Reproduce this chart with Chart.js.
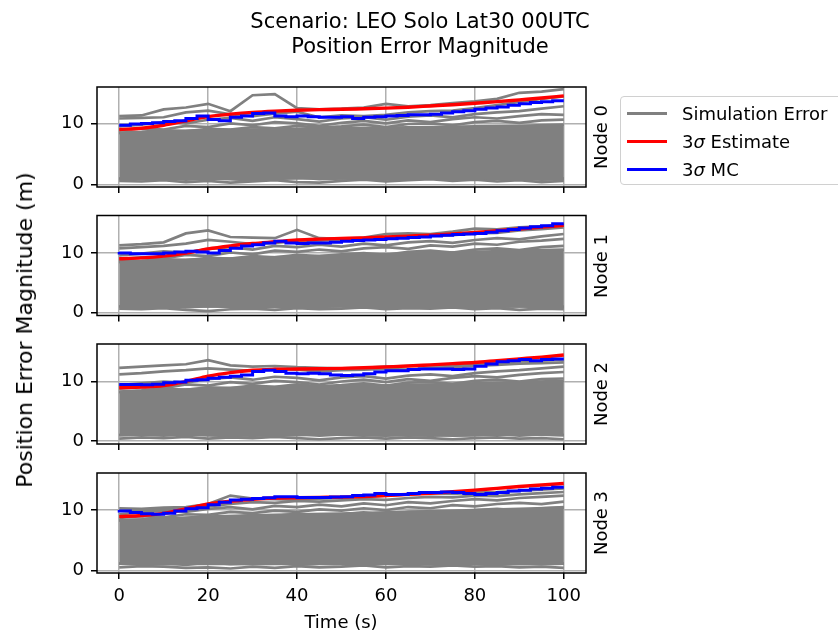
<!DOCTYPE html>
<html>
<head>
<meta charset="utf-8">
<title>Position Error Magnitude</title>
<script src="https://cdn.jsdelivr.net/npm/chart.js@4.4.0/dist/chart.umd.min.js"></script>
<style>
  body { margin: 0; background: #fff; font-family: "DejaVu Sans", sans-serif; }
  #fig { position: relative; width: 838px; height: 637px; overflow: hidden; background: #fff; }
  #fig canvas { position: absolute; left: 0; top: 0; width: 838px; height: 637px; }
  .txt { position: absolute; white-space: nowrap; color: #000; line-height: 1; }
  .title { left: 420px; top: 9px; transform: translateX(-50%); text-align: center; font-size: 21px; line-height: 25px; }
  .rot { transform: translate(-50%, -50%) rotate(-90deg); }
  #legend { position: absolute; left: 620px; top: 96px; width: 240px; height: 89px; box-sizing: border-box;
            border: 1px solid #d0d0d0; border-radius: 4px; background: rgba(255,255,255,0.8); }
  .row { position: absolute; left: 0; height: 24px; font-size: 18px; }
  .row span.swatch { position: absolute; left: 6px; width: 40px; height: 3px; top: 11px; }
  .row span.lab { position: absolute; left: 61px; top: 2px; white-space: nowrap; }
</style>
</head>
<body>
<div id="fig">
  <canvas id="node0" width="838" height="637"></canvas>
  <canvas id="node1" width="838" height="637"></canvas>
  <canvas id="node2" width="838" height="637"></canvas>
  <canvas id="node3" width="838" height="637"></canvas>
  <div class="txt title">Scenario: LEO Solo Lat30 00UTC<br>Position Error Magnitude</div>
  <div class="txt rot" style="left:25px; top:330px; font-size:22px;">Position Error Magnitude (m)</div>
  <div class="txt" style="left:341px; top:622px; transform:translate(-50%,-50%); font-size:18px;">Time (s)</div>
  <div id="legend"></div>
</div>
<script>
// time bases (s)
const simTime = [0, 5, 10, 15, 20, 25, 30, 35, 40, 45, 50, 55, 60, 65, 70, 75, 80, 85, 90, 95, 100];
const mcTime = [0, 2.5, 5, 7.5, 10, 12.5, 15, 17.5, 20, 22.5, 25, 27.5, 30, 32.5, 35, 37.5, 40, 42.5, 45, 47.5,
  50, 52.5, 55, 57.5, 60, 62.5, 65, 67.5, 70, 72.5, 75, 77.5, 80, 82.5, 85, 87.5, 90, 92.5, 95, 97.5, 100];
const bandTime = [0, 10, 20, 30, 40, 50, 60, 70, 80, 90, 100];

const xTickValues = [0, 20, 40, 60, 80, 100];
const yTickValues = [0, 10];
const nodeNames = ["Node 0", "Node 1", "Node 2", "Node 3"];

// ---- Node 0 ----
const est0 = [9.0, 9.2, 9.7, 10.4, 11.1, 11.5, 11.8, 12.0, 12.15, 12.25, 12.3, 12.4, 12.5, 12.65, 12.85, 13.05, 13.3, 13.55, 13.85, 14.15, 14.5];
const mc0 = [9.7, 9.7, 9.9, 10.0, 10.1, 10.3, 10.45, 10.8, 11.2, 10.65, 10.45, 11.0, 11.2, 11.6, 11.7, 11.2, 11.1, 11.2, 11.1, 11.0,
  11.0, 11.1, 10.8, 11.0, 11.1, 11.2, 11.3, 11.4, 11.4, 11.5, 11.7, 11.9, 12.05, 12.3, 12.5, 12.7, 12.95, 13.2, 13.4, 13.55, 13.7];
const simErr0 = [
  [11.2, 11.3, 12.3, 12.6, 13.2, 12.0, 14.6, 14.8, 12.5, 12.3, 12.4, 12.6, 13.2, 12.8, 13.0, 13.3, 13.6, 14.0, 15.0, 15.2, 15.6],
  [10.8, 10.9, 11.0, 11.8, 12.1, 11.5, 11.2, 11.6, 11.9, 11.0, 11.3, 11.2, 11.4, 11.8, 12.0, 12.1, 12.5, 13.0, 13.5, 14.0, 14.4],
  [9.5, 9.8, 10.2, 10.0, 10.6, 10.9, 10.4, 11.0, 10.7, 10.3, 10.8, 11.0, 10.6, 11.1, 11.3, 11.0, 11.5, 11.8, 12.0, 12.4, 12.8],
  [8.9, 9.2, 9.0, 9.6, 9.4, 10.0, 9.7, 10.2, 10.0, 9.6, 10.1, 10.4, 10.0, 10.5, 10.2, 10.7, 11.0, 10.8, 11.2, 11.5, 11.4],
  [8.5, 8.6, 8.9, 8.7, 9.1, 9.0, 9.4, 9.2, 9.6, 9.3, 9.5, 9.8, 9.4, 9.9, 10.0, 9.7, 10.2, 10.4, 10.1, 10.5, 10.6],
  [0.6, 0.5, 0.7, 0.4, 0.6, 0.3, 0.5, 0.7, 0.4, 0.3, 0.6, 0.8, 0.5, 0.7, 0.9, 0.6, 0.8, 0.5, 0.7, 0.4, 0.6],
  [1.0, 0.9, 1.1, 0.8, 1.0, 0.9, 0.7, 1.0, 1.2, 0.9, 1.0, 1.1, 0.9, 1.2, 1.0, 0.8, 1.1, 0.9, 1.0, 0.8, 0.9]
];
const bandLow0 = [0.9, 0.9, 1.0, 0.9, 1.0, 1.0, 0.9, 1.0, 1.0, 0.9, 1.0];
const bandHigh0 = [8.4, 8.7, 8.9, 9.0, 9.1, 9.2, 9.3, 9.4, 9.5, 9.6, 9.8];

// ---- Node 1 ----
const est1 = [9.05, 9.2, 9.5, 10.0, 10.7, 11.2, 11.6, 11.9, 12.2, 12.35, 12.45, 12.55, 12.7, 12.85, 13.0, 13.2, 13.45, 13.75, 14.05, 14.35, 14.65];
const mc1 = [10.2, 10.0, 9.9, 9.9, 9.9, 10.0, 10.2, 10.3, 10.2, 10.0, 10.45, 10.8, 11.2, 11.4, 11.7, 12.0, 11.7, 11.6, 11.7, 11.7,
  11.8, 12.0, 12.1, 12.2, 12.3, 12.4, 12.5, 12.6, 12.7, 12.85, 13.0, 13.1, 13.2, 13.3, 13.5, 13.75, 13.95, 14.2, 14.4, 14.6, 14.9];
const simErr1 = [
  [11.3, 11.5, 11.8, 13.3, 13.8, 12.7, 12.6, 12.5, 13.9, 12.5, 12.4, 12.6, 13.2, 13.3, 13.2, 13.6, 14.1, 14.0, 14.3, 14.5, 14.7],
  [10.8, 11.0, 11.2, 11.6, 12.2, 11.9, 11.5, 11.7, 12.0, 12.1, 12.2, 12.3, 12.4, 12.8, 12.9, 13.0, 13.3, 13.4, 13.8, 14.0, 14.3],
  [9.6, 9.9, 10.3, 10.1, 10.7, 11.0, 10.6, 11.2, 11.0, 11.4, 11.1, 11.6, 11.3, 11.8, 12.0, 11.7, 12.2, 12.5, 12.3, 12.8, 13.2],
  [9.0, 9.3, 9.1, 9.7, 9.5, 10.1, 9.8, 10.4, 10.2, 10.6, 10.3, 10.8, 11.0, 10.7, 11.3, 11.1, 11.6, 11.4, 11.9, 12.1, 12.4],
  [8.6, 8.7, 9.0, 8.8, 9.2, 9.1, 9.5, 9.3, 9.7, 9.5, 9.8, 10.0, 9.7, 10.2, 10.4, 10.1, 10.6, 10.8, 10.5, 11.0, 11.2],
  [0.7, 0.6, 0.8, 0.5, 0.3, 0.6, 0.7, 0.5, 0.8, 0.6, 0.7, 0.9, 0.6, 0.8, 0.7, 0.9, 0.6, 0.8, 0.5, 0.7, 0.6],
  [1.1, 1.0, 1.2, 0.9, 1.1, 1.0, 0.9, 1.1, 1.2, 1.0, 1.1, 1.2, 1.0, 1.3, 1.1, 0.9, 1.2, 1.0, 1.1, 0.9, 1.0]
];
const bandLow1 = [1.0, 1.0, 1.1, 1.0, 1.0, 1.1, 1.0, 1.0, 1.0, 1.1, 1.0];
const bandHigh1 = [8.5, 8.8, 9.0, 9.2, 9.4, 9.6, 9.8, 10.0, 10.2, 10.4, 10.6];

// ---- Node 2 ----
const est2 = [8.95, 9.05, 9.3, 10.0, 10.9, 11.5, 11.9, 12.05, 12.1, 12.15, 12.2, 12.3, 12.45, 12.6, 12.8, 13.0, 13.2, 13.5, 13.8, 14.1, 14.45];
const mc2 = [9.5, 9.5, 9.5, 9.45, 9.55, 9.8, 9.9, 10.2, 10.3, 10.55, 10.7, 10.9, 11.1, 11.7, 11.9, 11.7, 11.4, 11.3, 11.4, 11.3,
  11.1, 11.0, 11.1, 11.3, 11.6, 11.8, 11.8, 12.0, 12.1, 12.1, 12.1, 12.0, 12.1, 12.55, 12.95, 13.3, 13.5, 13.7, 13.5, 13.7, 13.8];
const simErr2 = [
  [12.3, 12.5, 12.7, 12.9, 13.6, 12.7, 12.5, 12.6, 12.4, 12.3, 12.2, 12.3, 12.5, 12.6, 12.7, 12.8, 12.9, 13.1, 13.4, 13.5, 13.7],
  [11.2, 11.4, 11.7, 11.9, 12.2, 12.0, 11.8, 12.1, 12.0, 11.7, 11.9, 12.0, 12.1, 12.0, 12.3, 12.4, 12.6, 12.8, 13.0, 13.1, 13.2],
  [9.4, 9.7, 10.0, 9.8, 10.4, 10.7, 10.3, 10.8, 10.6, 10.2, 10.7, 10.9, 10.5, 11.0, 11.2, 10.9, 11.4, 11.7, 11.9, 12.2, 12.5],
  [8.8, 9.1, 8.9, 9.5, 9.3, 9.9, 9.6, 10.1, 9.9, 9.5, 10.0, 10.3, 9.9, 10.4, 10.1, 10.6, 10.9, 10.7, 11.1, 11.4, 11.6],
  [8.3, 8.5, 8.8, 8.6, 9.0, 8.9, 9.3, 9.1, 9.5, 9.2, 9.4, 9.7, 9.3, 9.8, 9.9, 9.6, 10.1, 10.3, 10.0, 10.4, 10.5],
  [0.4, 0.6, 0.5, 0.7, 0.4, 0.6, 0.5, 0.7, 0.5, 0.3, 0.5, 0.6, 0.4, 0.6, 0.5, 0.3, 0.5, 0.6, 0.4, 0.5, 0.3],
  [1.0, 1.1, 0.9, 1.2, 1.0, 0.8, 1.1, 1.0, 1.2, 0.9, 1.1, 1.0, 0.9, 1.1, 1.2, 0.9, 1.0, 1.2, 0.9, 1.1, 1.0]
];
const bandLow2 = [1.0, 1.1, 1.0, 0.9, 1.0, 1.1, 1.0, 0.9, 1.0, 1.1, 1.0];
const bandHigh2 = [8.2, 8.5, 8.8, 9.0, 9.1, 9.2, 9.3, 9.5, 9.7, 9.9, 10.1];

// ---- Node 3 ----
const est3 = [8.9, 9.1, 9.45, 10.2, 11.0, 11.45, 11.8, 12.0, 12.05, 12.1, 12.15, 12.25, 12.4, 12.6, 12.8, 13.05, 13.3, 13.6, 13.9, 14.15, 14.4];
const mc3 = [10.0, 9.85, 9.6, 9.4, 9.3, 9.45, 9.85, 10.2, 10.4, 10.9, 11.3, 11.65, 11.8, 11.9, 12.05, 12.2, 12.2, 12.1, 12.1, 12.1,
  12.15, 12.2, 12.4, 12.5, 12.75, 12.6, 12.6, 12.75, 12.9, 12.9, 13.0, 12.9, 12.75, 12.6, 12.75, 12.9, 13.15, 13.3, 13.5, 13.6, 13.8];
const simErr3 = [
  [10.3, 10.2, 10.4, 10.5, 11.0, 12.4, 11.9, 11.8, 11.7, 11.9, 12.0, 12.2, 12.4, 12.6, 12.8, 12.7, 12.9, 13.0, 13.2, 13.4, 13.6],
  [9.9, 10.0, 10.2, 10.1, 10.6, 11.0, 11.3, 11.2, 11.5, 11.4, 11.6, 11.8, 11.7, 12.0, 12.2, 12.1, 12.4, 12.3, 12.6, 12.8, 13.0],
  [9.3, 9.6, 9.9, 9.7, 10.2, 10.5, 10.1, 10.7, 10.5, 10.9, 10.6, 11.1, 10.8, 11.3, 11.1, 11.5, 11.8, 11.6, 12.0, 12.2, 12.4],
  [8.7, 9.0, 8.8, 9.3, 9.2, 9.7, 9.5, 9.9, 9.7, 10.1, 9.9, 10.3, 10.0, 10.5, 10.3, 10.8, 10.6, 11.0, 11.2, 11.0, 11.4],
  [8.3, 8.4, 8.7, 8.5, 8.9, 8.8, 9.2, 9.0, 9.4, 9.1, 9.3, 9.6, 9.2, 9.7, 9.8, 9.5, 10.0, 10.2, 9.9, 10.3, 10.5],
  [0.5, 0.7, 0.6, 0.4, 0.5, 0.3, 0.6, 0.4, 0.7, 0.5, 0.6, 0.8, 0.5, 0.7, 0.6, 0.8, 0.6, 0.7, 0.5, 0.6, 0.4],
  [1.1, 1.0, 1.2, 0.9, 1.3, 1.0, 1.2, 1.4, 0.9, 1.1, 1.2, 1.0, 1.1, 1.3, 1.0, 1.2, 1.1, 0.9, 1.2, 1.0, 1.1]
];
const bandLow3 = [1.1, 1.0, 1.1, 1.0, 1.1, 1.0, 1.1, 1.0, 1.1, 1.0, 1.1];
const bandHigh3 = [8.3, 8.6, 8.9, 9.1, 9.3, 9.4, 9.6, 9.8, 10.0, 10.2, 10.4];

const legendLabels = ["Simulation Error", "3<i>σ</i> Estimate", "3<i>σ</i> MC"];
const legendColors = ["gray", "red", "blue"];

// subplot placement (pixels) and y limits
const panelTops = [87, 215.5, 344, 473];
const panelHeight = 100;
const plotLeft = 97;
const plotRight = 586;
const yLimits = [[-0.4, 15.95], [-0.45, 16.3], [-0.5, 16.3], [-0.45, 16.15]];

const panels = [
  { est: est0, mc: mc0, sims: simErr0, low: bandLow0, high: bandHigh0 },
  { est: est1, mc: mc1, sims: simErr1, low: bandLow1, high: bandHigh1 },
  { est: est2, mc: mc2, sims: simErr2, low: bandLow2, high: bandHigh2 },
  { est: est3, mc: mc3, sims: simErr3, low: bandLow3, high: bandHigh3 }
];

Chart.defaults.font.family = "'DejaVu Sans', sans-serif";
Chart.defaults.font.size = 18;
Chart.defaults.color = "#000";

function pts(xs, ys) {
  return ys.map((y, i) => ({ x: xs[i], y: y }));
}

// black box round each subplot
const frame = {
  id: "frame",
  afterDatasetsDraw(chart) {
    const a = chart.chartArea;
    const ctx = chart.ctx;
    ctx.save();
    ctx.strokeStyle = "#000";
    ctx.lineWidth = 1.5;
    ctx.strokeRect(a.left, a.top, a.right - a.left, a.bottom - a.top);
    ctx.restore();
  }
};

panels.forEach((p, k) => {
  const last = k === panels.length - 1;

  const datasets = [
    { label: "3σ MC", data: pts(mcTime, p.mc), borderColor: "blue", borderWidth: 3, stepped: "after" },
    { label: "3σ Estimate", data: pts(simTime, p.est), borderColor: "red", borderWidth: 3.4, cubicInterpolationMode: "monotone" }
  ];
  p.sims.forEach((s) => {
    datasets.push({ label: "Simulation Error", data: pts(simTime, s), borderColor: "gray", borderWidth: 2.7 });
  });
  // bulk of the Monte Carlo runs
  datasets.push({ label: "band", data: pts(bandTime, p.high), borderColor: "gray", backgroundColor: "gray", borderWidth: 2.7, fill: "+1" });
  datasets.push({ label: "band", data: pts(bandTime, p.low), borderColor: "gray", borderWidth: 2.7, fill: false });

  const config = {
    type: "line",
    data: { datasets: datasets },
    options: {
      responsive: false,
      animation: false,
      devicePixelRatio: 1,
      elements: { point: { radius: 0 }, line: { tension: 0 } },
      layout: {
        padding: {
          left: 0,
          right: 838 - plotRight,
          top: panelTops[k],
          bottom: 637 - panelTops[k] - panelHeight - 40
        }
      },
      plugins: { legend: { display: false }, tooltip: { enabled: false }, title: { display: false } },
      scales: {
        x: {
          type: "linear",
          min: -5,
          max: 105,
          afterBuildTicks: (s) => { s.ticks = xTickValues.map((v) => ({ value: v })); },
          afterFit: (s) => { s.height = 40; },
          border: { display: false },
          grid: { color: "#b0b0b0", lineWidth: 1.5, tickColor: "#000", tickLength: 6, tickWidth: 1.5 },
          ticks: { display: last, padding: 7, maxRotation: 0 }
        },
        y: {
          type: "linear",
          min: yLimits[k][0],
          max: yLimits[k][1],
          afterBuildTicks: (s) => { s.ticks = yTickValues.map((v) => ({ value: v })); },
          afterFit: (s) => { s.width = plotLeft; },
          border: { display: false },
          grid: { color: "#b0b0b0", lineWidth: 1.5, tickColor: "#000", tickLength: 6, tickWidth: 1.5 },
          ticks: { padding: 7 }
        }
      }
    },
    plugins: [frame]
  };

  new Chart(document.getElementById("node" + k), config);

  // node name on the right of each subplot
  const lab = document.createElement("div");
  lab.className = "txt rot";
  lab.style.left = "601px";
  lab.style.top = (panelTops[k] + panelHeight / 2) + "px";
  lab.style.fontSize = "18px";
  lab.textContent = nodeNames[k];
  document.getElementById("fig").appendChild(lab);
});

// legend
const legend = document.getElementById("legend");
legendLabels.forEach((txt, i) => {
  const row = document.createElement("div");
  row.className = "row";
  row.style.top = (4 + i * 28) + "px";
  row.innerHTML = '<span class="swatch" style="background:' + legendColors[i] + '"></span><span class="lab">' + txt + "</span>";
  legend.appendChild(row);
});
</script>
</body>
</html>
